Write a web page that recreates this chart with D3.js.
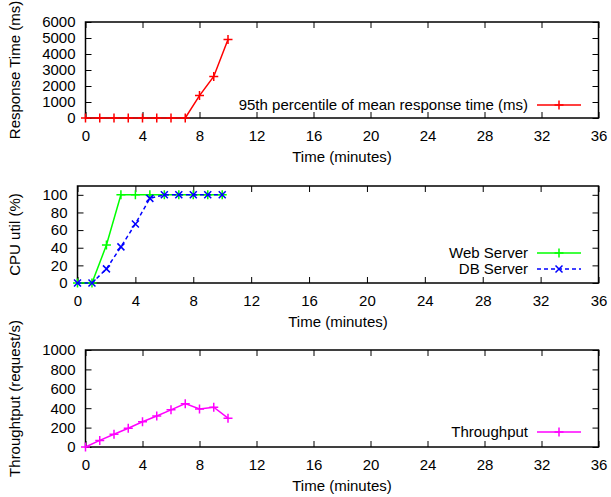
<!DOCTYPE html>
<meta charset="utf-8">
<style>
body { margin: 0; background: #fff; }
svg { font-family: "Liberation Sans", Arial, sans-serif; }
.axis path, .axis line { stroke: #000; }
.axis text { font-size: 15px; fill: #000; }
.lbl { font-size: 15px; fill: #000; }
</style>
<svg width="611" height="497"></svg>
<script src="https://d3js.org/d3.v7.min.js"></script>
<script>

// data
var minutes = [0, 1, 2, 3, 4, 5, 6, 7, 8, 9, 10];
var respTime = [0, 0, 0, 0, 0, 0, 0, 0, 1400, 2600, 4900];
var webCpu = [0, 0, 43, 100, 100, 100, 100, 100, 100, 100, 100];
var dbCpu = [0, 0, 16, 41, 67, 96, 100, 100, 100, 100, 100];
var throughput = [0, 68, 131, 193, 260, 320, 383, 447, 393, 410, 297];

var xTicks = d3.range(0, 37, 4);

var svg = d3.select("svg");

function plus(g, x, y, s) {
  g.append("path").attr("d", "M" + (x - s) + "," + y + "H" + (x + s) + "M" + x + "," + (y - s) + "V" + (y + s));
}
function cross(g, x, y, s) {
  g.append("path").attr("d", "M" + (x - s) + "," + (y - s) + "L" + (x + s) + "," + (y + s) + "M" + (x - s) + "," + (y + s) + "L" + (x + s) + "," + (y - s));
}

function panel(opt) {
  var x = d3.scaleLinear().domain([0, 36]).range([opt.left, 598.5]);
  var y = d3.scaleLinear().domain(opt.ydom).range([opt.bottom, opt.top]);
  var g = svg.append("g");

  // axes, ticks pointing inwards and mirrored
  g.append("g").attr("class", "axis")
    .attr("transform", "translate(0," + opt.bottom + ")")
    .call(d3.axisBottom(x).tickValues(xTicks).tickSizeInner(-6).tickSizeOuter(0).tickPadding(12))
    .call(function(a) { a.select(".domain").remove(); });
  g.append("g").attr("class", "axis")
    .attr("transform", "translate(0," + opt.top + ")")
    .call(d3.axisTop(x).tickValues(xTicks).tickSizeInner(-6).tickSizeOuter(0).tickFormat(""))
    .call(function(a) { a.select(".domain").remove(); });
  g.append("g").attr("class", "axis")
    .attr("transform", "translate(" + opt.left + ",0)")
    .call(d3.axisLeft(y).tickValues(opt.yticks).tickFormat(d3.format("d")).tickSizeInner(-6).tickSizeOuter(0).tickPadding(10))
    .call(function(a) { a.select(".domain").remove(); });
  g.append("g").attr("class", "axis")
    .attr("transform", "translate(598.5,0)")
    .call(d3.axisRight(y).tickValues(opt.yticks).tickSizeInner(-6).tickSizeOuter(0).tickFormat(""))
    .call(function(a) { a.select(".domain").remove(); });
  g.selectAll(".axis .tick line").attr("stroke-width", 1);

  g.append("rect")
    .attr("x", opt.left).attr("y", opt.top)
    .attr("width", 598.5 - opt.left).attr("height", opt.bottom - opt.top)
    .attr("fill", "none").attr("stroke", "#000").attr("stroke-width", 1.5);

  g.append("text").attr("class", "lbl")
    .attr("x", (opt.left + 598.5) / 2).attr("y", opt.bottom + 44)
    .attr("text-anchor", "middle").text("Time (minutes)");
  g.append("text").attr("class", "lbl")
    .attr("transform", "translate(20," + (opt.top + opt.bottom) / 2 + ") rotate(-90)")
    .attr("text-anchor", "middle").text(opt.ylabel);

  opt.series.forEach(function(s, i) {
    var line = d3.line().x(function(d, j) { return x(minutes[j]); }).y(function(d) { return y(d); });
    var sg = g.append("g").attr("stroke", s.color).attr("stroke-width", 1.5).attr("fill", "none");
    sg.append("path").attr("d", line(s.values)).attr("stroke-dasharray", s.dash || null);
    s.values.forEach(function(v, j) {
      s.mark(sg, x(minutes[j]), y(v), s.mark === cross ? 3.5 : 4.5);
    });
    // legend
    var ly = opt.legendY + i * 16;
    g.append("text").attr("class", "lbl")
      .attr("x", 528).attr("y", ly + 5).attr("text-anchor", "end").text(s.name);
    var lg = g.append("g").attr("stroke", s.color).attr("stroke-width", 1.5).attr("fill", "none");
    lg.append("line").attr("x1", 537).attr("x2", 581).attr("y1", ly).attr("y2", ly)
      .attr("stroke-dasharray", s.dash || null);
    s.mark(lg, 559, ly, s.mark === cross ? 3.5 : 4.5);
  });
}

panel({
  left: 85.5, top: 22, bottom: 118,
  ydom: [0, 6000], yticks: d3.range(0, 6001, 1000),
  ylabel: "Response Time (ms)", legendY: 105,
  series: [{ name: "95th percentile of mean response time (ms)", values: respTime, color: "#ff0000", mark: plus }]
});

panel({
  left: 77.5, top: 186, bottom: 283,
  ydom: [0, 110], yticks: d3.range(0, 101, 20),
  ylabel: "CPU util (%)", legendY: 253,
  series: [
    { name: "Web Server", values: webCpu, color: "#00ff00", mark: plus },
    { name: "DB Server", values: dbCpu, color: "#0000ff", mark: cross, dash: "4,3" }
  ]
});

panel({
  left: 85.5, top: 350, bottom: 447,
  ydom: [0, 1000], yticks: d3.range(0, 1001, 200),
  ylabel: "Throughtput (request/s)", legendY: 432,
  series: [{ name: "Throughput", values: throughput, color: "#ff00ff", mark: plus }]
});

</script>
